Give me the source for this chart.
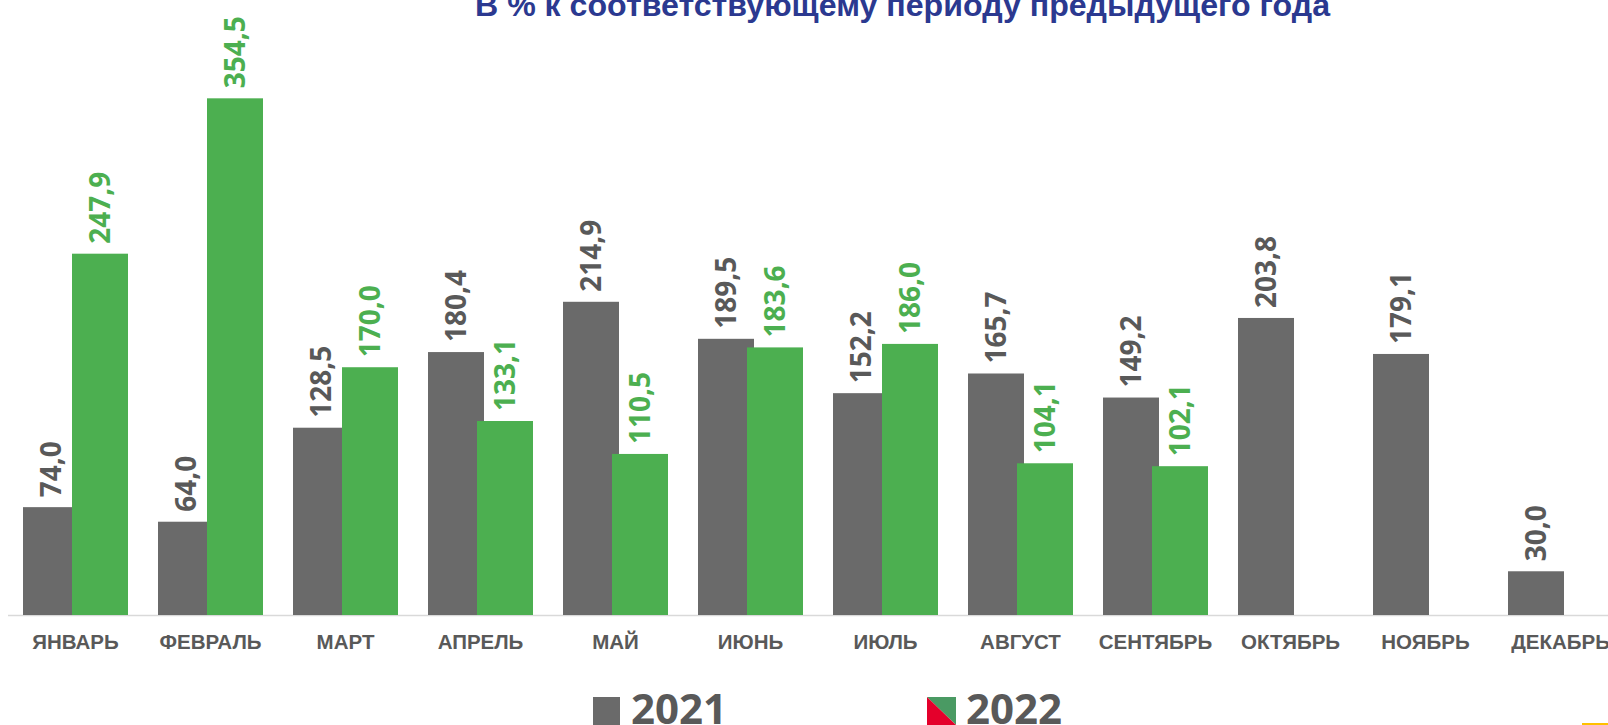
<!DOCTYPE html>
<html>
<head>
<meta charset="utf-8">
<script src="https://cdn.jsdelivr.net/npm/d3@7"></script>
<style>
  body { margin: 0; background: #fff; overflow: hidden; }
</style>
</head>
<body>
<div id="chart"></div>
<script>
const width = 1608
const height = 725

const months = ['ЯНВАРЬ', 'ФЕВРАЛЬ', 'МАРТ', 'АПРЕЛЬ', 'МАЙ', 'ИЮНЬ', 'ИЮЛЬ', 'АВГУСТ', 'СЕНТЯБРЬ', 'ОКТЯБРЬ', 'НОЯБРЬ', 'ДЕКАБРЬ']
const series = ['2021', '2022']
const values2021 = [74.0, 64.0, 128.5, 180.4, 214.9, 189.5, 152.2, 165.7, 149.2, 203.8, 179.1, 30.0]
const values2022 = [247.9, 354.5, 170.0, 133.1, 110.5, 183.6, 186.0, 104.1, 102.1, null, null, null]

const GRAY = '#6a6a6a'
const GREEN = '#4caf50'
const TEXT = '#595959'

const baseline = 615
const svg = d3
  .select('#chart')
  .append('svg')
  .attr('width', width)
  .attr('height', height)

const x0 = d3
  .scaleBand()
  .domain(months)
  .range([8, 8 + 135 * months.length])

const x1 = d3
  .scaleBand()
  .domain(series)
  .range([15, 113])

const barW = 56

const y = d3
  .scaleLinear()
  .domain([0, 400])
  .range([baseline, 32])

// title (cut off at the top of the slide)
svg
  .append('text')
  .text('В % к соответствующему периоду предыдущего года')
  .attr('x', 475)
  .attr('y', 16)
  .attr('textLength', 855)
  .attr('lengthAdjust', 'spacingAndGlyphs')
  .attr('font-family', '"Liberation Sans", Arial, sans-serif')
  .attr('font-weight', 'bold')
  .attr('font-size', 32)
  .attr('fill', '#2b3990')

// axis line
svg
  .append('line')
  .attr('x1', x0.range()[0])
  .attr('x2', width)
  .attr('y1', baseline + 0.5)
  .attr('y2', baseline + 0.5)
  .attr('stroke', '#d9d9d9')
  .attr('stroke-width', 1.5)

const rows = months.map((m, i) => ({
  month: m,
  vals: [
    { key: '2021', v: values2021[i], color: GRAY },
    { key: '2022', v: values2022[i], color: GREEN }
  ].filter(d => d.v != null)
}))

const groups = svg
  .selectAll('g.month')
  .data(rows)
  .enter()
  .append('g')
  .attr('class', 'month')
  .attr('transform', d => `translate(${x0(d.month)},0)`)

groups
  .selectAll('rect')
  .data(d => d.vals)
  .enter()
  .append('rect')
  .attr('x', d => x1(d.key))
  .attr('y', d => y(d.v))
  .attr('width', barW)
  .attr('height', d => baseline - y(d.v))
  .attr('fill', d => d.color)

groups
  .selectAll('text.val')
  .data(d => d.vals)
  .enter()
  .append('text')
  .attr('class', 'val')
  .text(d => d3.format('.1f')(d.v).replace('.', ','))
  .attr('transform', d => `translate(${x1(d.key) + barW / 2},${y(d.v) - 10}) rotate(-90)`)
  .attr('dy', '0.36em')
  .attr('text-anchor', 'start')
  .attr('font-family', '"Open Sans", sans-serif')
  .attr('font-weight', 'bold')
  .attr('font-size', 28)
  .attr('fill', d => (d.key === '2021' ? TEXT : GREEN))

// category labels
svg
  .selectAll('text.cat')
  .data(months)
  .enter()
  .append('text')
  .attr('class', 'cat')
  .text(d => d)
  .attr('x', d => x0(d) + x0.bandwidth() / 2)
  .attr('y', 649)
  .attr('text-anchor', 'middle')
  .attr('font-family', '"Liberation Sans", Arial, sans-serif')
  .attr('font-weight', 'bold')
  .attr('font-size', 20.5)
  .attr('fill', TEXT)

// legend
const legend = svg.append('g')
legend
  .append('rect')
  .attr('x', 593)
  .attr('y', 697)
  .attr('width', 27)
  .attr('height', 28)
  .attr('fill', GRAY)
legend
  .append('text')
  .text(series[0])
  .attr('x', 631)
  .attr('y', 724)
  .attr('font-family', '"Open Sans", sans-serif')
  .attr('font-weight', 'bold')
  .attr('font-size', 42)
  .attr('fill', TEXT)

legend
  .append('path')
  .attr('d', 'M927,697 L956,697 L956,725 Z')
  .attr('fill', '#4a9a63')
legend
  .append('path')
  .attr('d', 'M927,697 L956,725 L927,725 Z')
  .attr('fill', '#e4002b')
legend
  .append('text')
  .text(series[1])
  .attr('x', 966)
  .attr('y', 724)
  .attr('font-family', '"Open Sans", sans-serif')
  .attr('font-weight', 'bold')
  .attr('font-size', 42)
  .attr('fill', TEXT)

// slide decoration, bottom right
svg
  .append('rect')
  .attr('x', 1582)
  .attr('y', 723)
  .attr('width', 26)
  .attr('height', 2)
  .attr('fill', '#ffc000')
</script>
</body>
</html>
